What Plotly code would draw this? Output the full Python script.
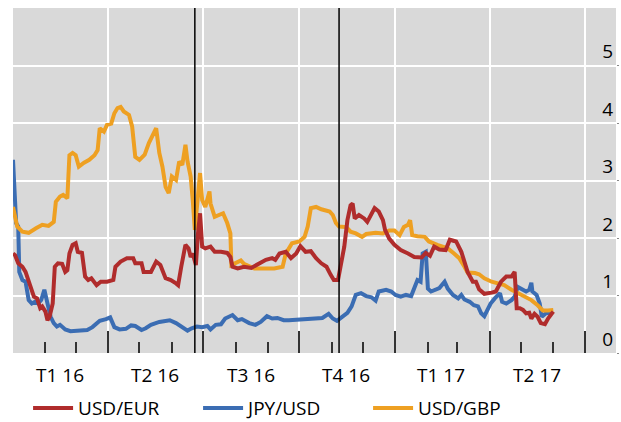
import plotly.graph_objects as go

# USD/EUR
eur_dates = [
    "2016-01-01", "2016-01-03", "2016-01-06", "2016-01-10", "2016-01-13", "2016-01-16", "2016-01-19",
    "2016-01-21", "2016-01-24", "2016-01-27", "2016-01-29", "2016-02-01", "2016-02-03", "2016-02-05",
    "2016-02-08", "2016-02-10", "2016-02-13", "2016-02-17", "2016-02-20", "2016-02-22", "2016-02-24",
    "2016-02-27", "2016-03-01", "2016-03-03", "2016-03-07", "2016-03-10", "2016-03-13", "2016-03-16",
    "2016-03-21", "2016-03-25", "2016-03-31", "2016-04-06", "2016-04-08", "2016-04-13", "2016-04-19",
    "2016-04-25", "2016-04-27", "2016-05-03", "2016-05-05", "2016-05-12", "2016-05-17", "2016-05-21",
    "2016-05-26", "2016-05-31", "2016-06-05", "2016-06-07", "2016-06-10", "2016-06-14", "2016-06-17",
    "2016-06-19", "2016-06-21", "2016-06-24", "2016-06-26", "2016-06-28", "2016-06-30", "2016-07-03",
    "2016-07-08", "2016-07-12", "2016-07-18", "2016-07-24", "2016-07-27", "2016-07-29", "2016-08-03",
    "2016-08-09", "2016-08-16", "2016-08-24", "2016-08-30", "2016-09-05", "2016-09-08", "2016-09-12",
    "2016-09-18", "2016-09-23", "2016-09-28", "2016-10-02", "2016-10-07", "2016-10-12", "2016-10-17",
    "2016-10-22", "2016-10-27", "2016-10-31", "2016-11-03", "2016-11-07", "2016-11-10", "2016-11-13",
    "2016-11-16", "2016-11-19", "2016-11-21", "2016-11-23", "2016-11-27", "2016-12-02", "2016-12-05",
    "2016-12-08", "2016-12-12", "2016-12-16", "2016-12-20", "2016-12-22", "2016-12-26", "2016-12-31",
    "2017-01-06", "2017-01-13", "2017-01-19", "2017-01-26", "2017-01-30", "2017-02-03", "2017-02-07",
    "2017-02-12", "2017-02-18", "2017-02-22", "2017-02-28", "2017-03-05", "2017-03-09", "2017-03-11",
    "2017-03-16", "2017-03-19", "2017-03-22", "2017-03-27", "2017-04-03", "2017-04-07", "2017-04-12",
    "2017-04-17", "2017-04-22", "2017-04-25", "2017-04-27", "2017-04-30", "2017-05-03", "2017-05-06",
    "2017-05-09", "2017-05-11", "2017-05-14", "2017-05-17", "2017-05-20", "2017-05-24", "2017-05-27",
    "2017-06-01",
]
eur_values = [
    1.73, 1.70, 1.56, 1.50, 1.41, 1.24, 1.10,
    0.98, 0.95, 0.78, 0.81, 0.72, 0.57, 0.63,
    0.86, 1.50, 1.56, 1.55, 1.41, 1.44, 1.73,
    1.88, 1.91, 1.76, 1.74, 1.33, 1.27, 1.30,
    1.18, 1.24, 1.24, 1.27, 1.50, 1.59, 1.65,
    1.65, 1.56, 1.56, 1.41, 1.41, 1.59, 1.53,
    1.30, 1.27, 1.21, 1.18, 1.50, 1.88, 1.82,
    1.67, 1.73, 1.53, 2.08, 2.43, 1.85, 1.82,
    1.85, 1.76, 1.76, 1.74, 1.67, 1.50, 1.47,
    1.50, 1.48, 1.56, 1.62, 1.65, 1.62, 1.73,
    1.76, 1.65, 1.73, 1.86, 1.76, 1.77, 1.65,
    1.56, 1.50, 1.36, 1.27, 1.27, 1.56, 1.85,
    2.31, 2.57, 2.60, 2.34, 2.40, 2.34, 2.28,
    2.37, 2.52, 2.46, 2.31, 2.14, 1.99, 1.88,
    1.79, 1.73, 1.67, 1.66, 1.74, 1.69, 1.85,
    1.80, 1.79, 1.97, 1.94, 1.76, 1.53, 1.41,
    1.24, 1.24, 1.11, 1.03, 1.05, 1.07, 1.24,
    1.33, 1.33, 1.41, 0.78, 0.78, 0.75, 0.69,
    0.70, 0.60, 0.68, 0.63, 0.52, 0.50, 0.60,
    0.72,
]

# JPY/USD
jpy_dates = [
    "2016-01-01", "2016-01-02", "2016-01-04", "2016-01-06", "2016-01-07", "2016-01-10", "2016-01-13",
    "2016-01-16", "2016-01-19", "2016-01-22", "2016-01-25", "2016-01-28", "2016-01-31", "2016-02-03",
    "2016-02-06", "2016-02-09", "2016-02-12", "2016-02-15", "2016-02-20", "2016-02-25", "2016-03-04",
    "2016-03-12", "2016-03-17", "2016-03-24", "2016-03-30", "2016-04-03", "2016-04-07", "2016-04-12",
    "2016-04-18", "2016-04-23", "2016-04-27", "2016-05-03", "2016-05-07", "2016-05-12", "2016-05-20",
    "2016-05-30", "2016-06-05", "2016-06-11", "2016-06-16", "2016-06-20", "2016-06-25", "2016-06-30",
    "2016-07-05", "2016-07-08", "2016-07-13", "2016-07-18", "2016-07-22", "2016-07-29", "2016-08-03",
    "2016-08-07", "2016-08-14", "2016-08-20", "2016-08-25", "2016-08-31", "2016-09-05", "2016-09-10",
    "2016-09-16", "2016-09-21", "2016-10-01", "2016-10-07", "2016-10-17", "2016-10-23", "2016-10-29",
    "2016-11-02", "2016-11-06", "2016-11-11", "2016-11-16", "2016-11-20", "2016-11-24", "2016-11-29",
    "2016-12-04", "2016-12-09", "2016-12-13", "2016-12-16", "2016-12-23", "2016-12-28", "2017-01-01",
    "2017-01-06", "2017-01-11", "2017-01-16", "2017-01-19", "2017-01-22", "2017-01-25", "2017-01-27",
    "2017-01-30", "2017-02-01", "2017-02-04", "2017-02-09", "2017-02-12", "2017-02-17", "2017-02-20",
    "2017-02-25", "2017-03-02", "2017-03-05", "2017-03-08", "2017-03-13", "2017-03-17", "2017-03-21",
    "2017-03-24", "2017-03-27", "2017-03-30", "2017-04-02", "2017-04-06", "2017-04-11", "2017-04-13",
    "2017-04-17", "2017-04-22", "2017-04-25", "2017-04-28", "2017-05-01", "2017-05-06", "2017-05-09",
    "2017-05-11", "2017-05-12", "2017-05-16", "2017-05-19", "2017-05-21", "2017-05-25", "2017-05-30",
]
jpy_values = [
    3.36, 3.07, 2.26, 2.20, 1.41, 1.27, 1.24,
    0.92, 0.86, 0.89, 0.86, 0.92, 1.10, 0.86,
    0.63, 0.52, 0.46, 0.49, 0.41, 0.38, 0.39,
    0.40, 0.45, 0.56, 0.59, 0.62, 0.45, 0.41,
    0.42, 0.48, 0.47, 0.40, 0.43, 0.49, 0.54,
    0.57, 0.52, 0.45, 0.39, 0.43, 0.46, 0.45,
    0.47, 0.41, 0.49, 0.50, 0.60, 0.66, 0.57,
    0.59, 0.52, 0.49, 0.54, 0.64, 0.60, 0.61,
    0.57, 0.57, 0.58, 0.60, 0.60, 0.61, 0.68,
    0.60, 0.56, 0.64, 0.70, 0.81, 1.01, 1.04,
    0.99, 0.97, 0.91, 1.07, 1.10, 1.07, 1.01,
    0.98, 1.01, 0.99, 1.15, 1.27, 1.24, 1.73,
    1.76, 1.12, 1.07, 1.10, 1.13, 1.24, 1.12,
    1.01, 0.95, 1.01, 0.93, 0.89, 0.83, 0.81,
    0.69, 0.64, 0.75, 0.86, 0.95, 1.04, 0.89,
    0.86, 0.92, 0.98, 1.15, 1.12, 1.07, 1.10,
    1.22, 1.07, 1.01, 0.86, 0.63, 0.69, 0.70,
]

# USD/GBP
gbp_dates = [
    "2016-01-01", "2016-01-05", "2016-01-10", "2016-01-16", "2016-01-23", "2016-01-29", "2016-02-04",
    "2016-02-09", "2016-02-11", "2016-02-15", "2016-02-18", "2016-02-22", "2016-02-24", "2016-02-27",
    "2016-03-01", "2016-03-04", "2016-03-09", "2016-03-14", "2016-03-19", "2016-03-22", "2016-03-24",
    "2016-03-28", "2016-03-31", "2016-04-04", "2016-04-07", "2016-04-10", "2016-04-13", "2016-04-16",
    "2016-04-21", "2016-04-24", "2016-04-27", "2016-05-01", "2016-05-06", "2016-05-10", "2016-05-17",
    "2016-05-20", "2016-05-23", "2016-05-26", "2016-05-29", "2016-06-01", "2016-06-05", "2016-06-08",
    "2016-06-11", "2016-06-14", "2016-06-16", "2016-06-19", "2016-06-21", "2016-06-23", "2016-06-25",
    "2016-06-28", "2016-06-30", "2016-07-03", "2016-07-07", "2016-07-08", "2016-07-12", "2016-07-16",
    "2016-07-20", "2016-07-24", "2016-07-27", "2016-07-28", "2016-08-01", "2016-08-06", "2016-08-09",
    "2016-08-19", "2016-08-28", "2016-09-07", "2016-09-15", "2016-09-18", "2016-09-24", "2016-10-01",
    "2016-10-06", "2016-10-09", "2016-10-12", "2016-10-17", "2016-10-22", "2016-10-30", "2016-11-02",
    "2016-11-05", "2016-11-08", "2016-11-15", "2016-11-19", "2016-11-24", "2016-11-30", "2016-12-04",
    "2016-12-13", "2016-12-20", "2016-12-26", "2016-12-31", "2017-01-05", "2017-01-09", "2017-01-13",
    "2017-01-15", "2017-01-17", "2017-01-22", "2017-01-29", "2017-02-02", "2017-02-10", "2017-02-20",
    "2017-02-26", "2017-03-03", "2017-03-08", "2017-03-11", "2017-03-18", "2017-03-22", "2017-03-27",
    "2017-04-03", "2017-04-09", "2017-04-15", "2017-04-22", "2017-04-28", "2017-05-04", "2017-05-11",
    "2017-05-17", "2017-05-22", "2017-05-27", "2017-06-01",
]
gbp_values = [
    2.54, 2.20, 2.11, 2.09, 2.17, 2.23, 2.21,
    2.28, 2.63, 2.72, 2.75, 2.69, 3.44, 3.48,
    3.44, 3.24, 3.31, 3.36, 3.44, 3.53, 3.91,
    3.85, 3.97, 3.99, 4.17, 4.26, 4.28, 4.20,
    4.14, 3.94, 3.41, 3.36, 3.45, 3.65, 3.91,
    3.48, 3.24, 2.89, 2.78, 3.07, 3.01, 3.33,
    3.27, 3.62, 3.33, 3.07, 2.66, 2.14, 2.54,
    3.13, 2.66, 2.54, 2.81, 2.60, 2.37, 2.40,
    2.43, 2.26, 2.08, 1.53, 1.56, 1.61, 1.55,
    1.47, 1.47, 1.47, 1.50, 1.73, 1.91, 1.94,
    2.02, 2.20, 2.52, 2.54, 2.50, 2.46, 2.40,
    2.26, 2.20, 2.19, 2.11, 2.08, 2.02, 2.07,
    2.09, 2.08, 2.13, 2.13, 2.05, 2.19, 2.23,
    2.31, 2.05, 2.03, 2.02, 1.94, 1.88, 1.82,
    1.73, 1.65, 1.50, 1.40, 1.39, 1.37, 1.30,
    1.24, 1.21, 1.18, 1.10, 1.04, 0.99, 0.92,
    0.83, 0.74, 0.74, 0.75,
]

# quarter labels, placed mid-quarter
quarter_mid = ["2016-02-15", "2016-05-16", "2016-08-16", "2016-11-15", "2017-02-14", "2017-05-16"]
quarter_labels = ["T1 16", "T2 16", "T3 16", "T4 16", "T1 17", "T2 17"]

# events: Brexit vote, US election
event_dates = ["2016-06-23", "2016-11-08"]

FONT = "Open Sans"
FSIZE = 19

fig = go.Figure()

# drawing order: blue, orange, red on top; legend order red, blue, orange
fig.add_trace(go.Scatter(x=jpy_dates, y=jpy_values, name="JPY/USD", mode="lines",
                         line=dict(color="#3b6db3", width=4), legendrank=2))
fig.add_trace(go.Scatter(x=gbp_dates, y=gbp_values, name="USD/GBP", mode="lines",
                         line=dict(color="#eea022", width=4), legendrank=3))
fig.add_trace(go.Scatter(x=eur_dates, y=eur_values, name="USD/EUR", mode="lines",
                         line=dict(color="#b02c2c", width=4), legendrank=1))

for d in event_dates:
    fig.add_shape(type="line", xref="x", yref="paper", x0=d, x1=d, y0=0, y1=1,
                  line=dict(color="black", width=1.5))

for d, t in zip(quarter_mid, quarter_labels):
    fig.add_annotation(x=d, xref="x", y=-0.064, yref="paper", text=t, showarrow=False,
                       font=dict(family=FONT, size=FSIZE, color="black"), yanchor="middle")

fig.update_layout(
    width=621, height=422,
    margin=dict(l=13, r=5, t=8, b=69, autoexpand=False),
    paper_bgcolor="white",
    plot_bgcolor="#d9d9d9",
    font=dict(family=FONT, size=FSIZE, color="black"),
    showlegend=True,
    legend=dict(orientation="h", x=0.025, xanchor="left", y=-0.16, yanchor="middle",
                font=dict(family=FONT, size=FSIZE), itemwidth=40, traceorder="normal",
                entrywidth=115, entrywidthmode="pixels",
                bgcolor="rgba(0,0,0,0)"),
    xaxis=dict(
        type="date",
        range=["2016-01-01", "2017-07-31"],
        tick0="2016-01-01", dtick="M3",
        ticks="inside", ticklen=22, tickwidth=1.5, tickcolor="#333333",
        showticklabels=False, automargin=False,
        showgrid=True, gridcolor="white", gridwidth=2,
        minor=dict(tick0="2016-01-01", dtick="M1", ticks="inside", ticklen=11,
                   tickwidth=1.5, tickcolor="#333333", showgrid=False),
        zeroline=False, showline=False,
    ),
    yaxis=dict(
        side="right",
        range=[0, 6],
        tickvals=[0, 1, 2, 3, 4, 5],
        ticklabelposition="inside top",
        ticks="outside", ticklen=2, tickcolor="#888888",
        showgrid=True, gridcolor="white", gridwidth=2, automargin=False,
        zeroline=False, showline=False,
        tickfont=dict(family=FONT, size=FSIZE, color="black"),
    ),
)

# page body has a default 8px margin; drop it so the figure sits at the window origin
fig.write_html("out.html", config={"displayModeBar": False},
               post_script="document.body.style.margin='0';document.body.style.overflow='hidden';")
